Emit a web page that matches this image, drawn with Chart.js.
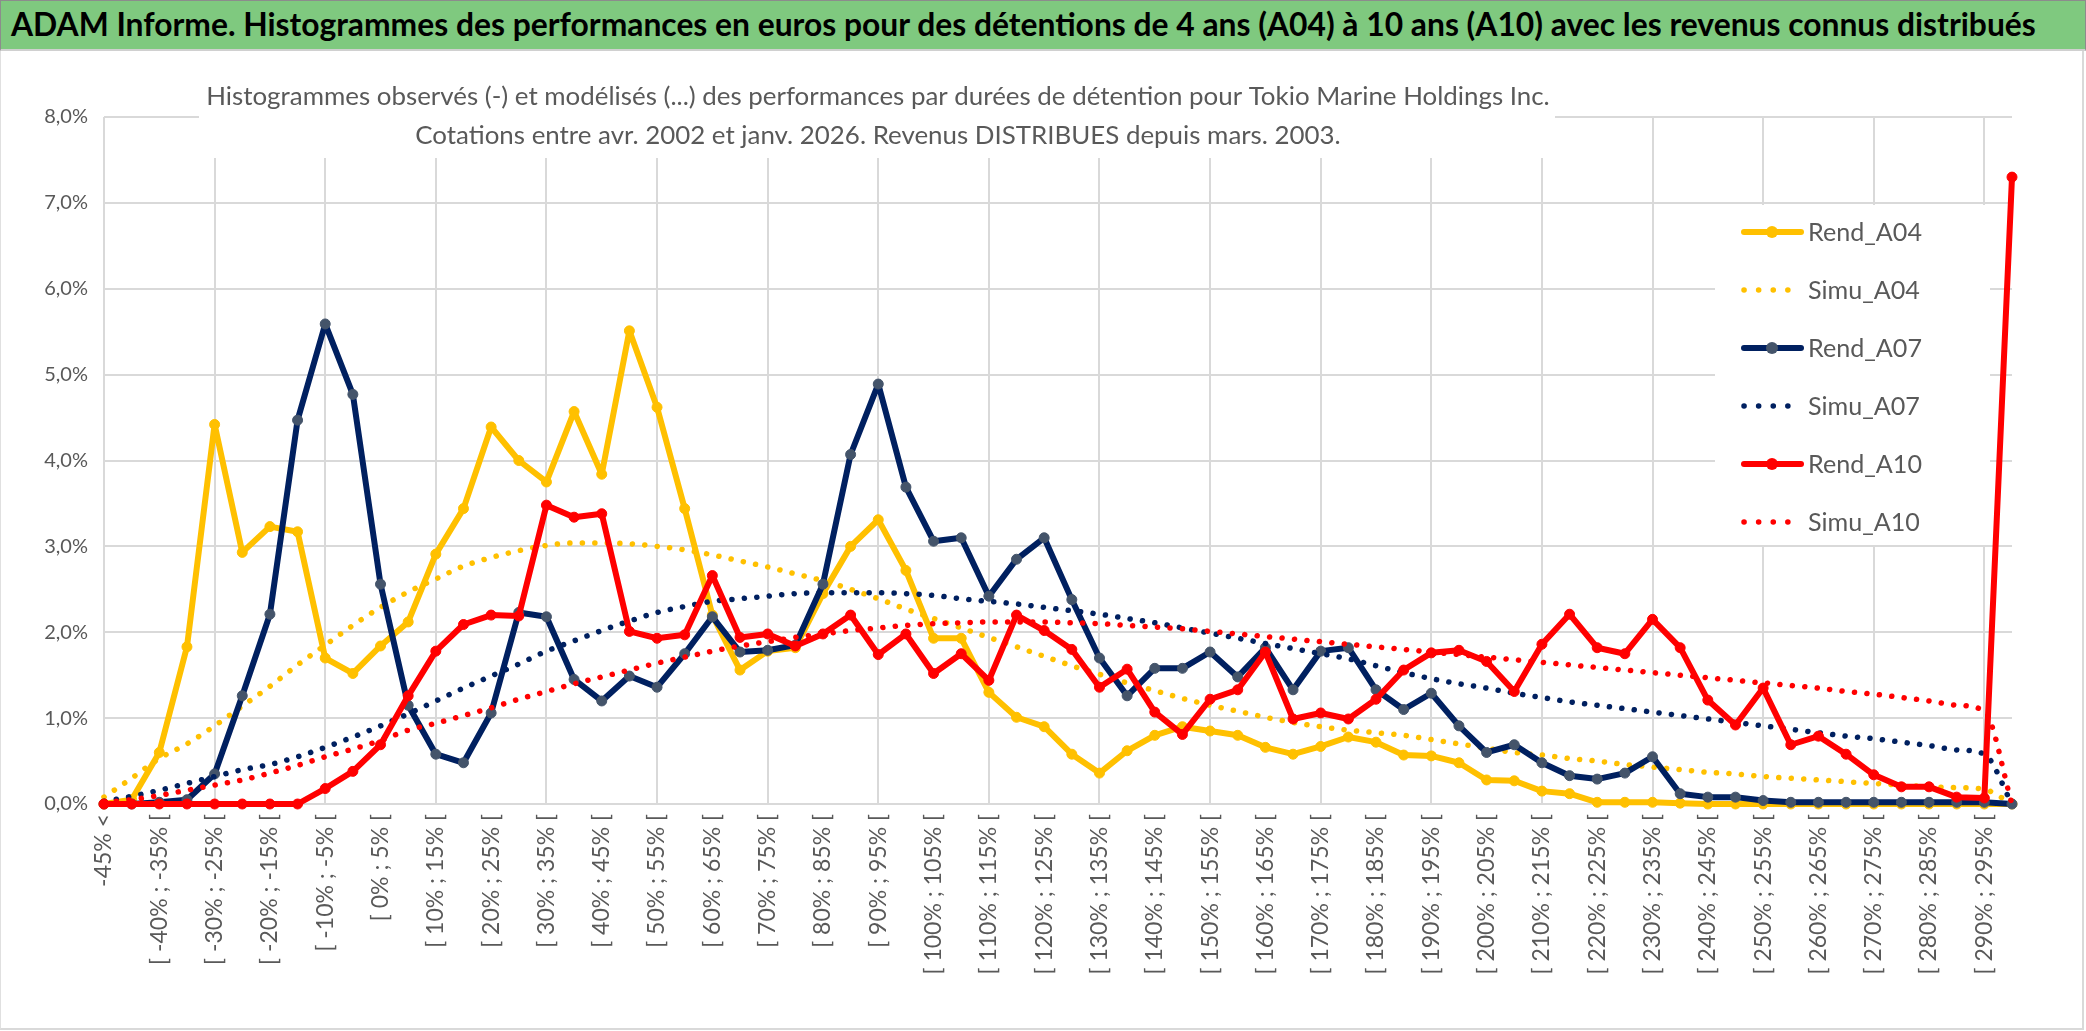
<!DOCTYPE html>
<html lang="fr">
<head>
<meta charset="utf-8">
<title>ADAM Informe - Tokio Marine Holdings Inc.</title>
<script src="https://cdn.jsdelivr.net/npm/chart.js@4.4.1/dist/chart.umd.min.js"></script>
<style>
  html, body { margin: 0; padding: 0; background: #fff; }
  body { width: 2086px; height: 1031px; position: relative; overflow: hidden; font-family: Lato, "Open Sans", sans-serif; }
  #header { position: absolute; left: 0; top: 0; width: 2084px; height: 48px; background: #7fc97f; border: 1px solid #8c8c8c; border-bottom: 2px solid #d0d0d0; }
  #header span { position: absolute; left: 10px; top: 50%; transform: translateY(-52%); font-weight: bold; color: #000; white-space: nowrap; font-size: 28px; }
  #frame { position: absolute; left: 0; top: 51px; width: 2081px; height: 977px; border-right: 2px solid #d9d9d9; border-bottom: 2px solid #d9d9d9; border-left: 1px solid #e0e0e0; pointer-events: none; }
  #chartBox { position: absolute; left: 0; top: 52px; width: 2086px; height: 979px; }
</style>
</head>
<body>
<div id="header"><span id="headerText">ADAM Informe. Histogrammes des performances en euros pour des détentions de 4 ans (A04) à 10 ans (A10) avec les revenus connus distribués</span></div>
<div id="chartBox"><canvas id="histoChart"></canvas></div>
<div id="frame"></div>
<script>
// Categories (bins of performance)
const categories = [
  '-45% <', '[ -45% ; -40% [', '[ -40% ; -35% [', '[ -35% ; -30% [', '[ -30% ; -25% [',
  '[ -25% ; -20% [', '[ -20% ; -15% [', '[ -15% ; -10% [', '[ -10% ; -5% [', '[ -5% ; 0% [',
  '[ 0% ; 5% [', '[ 5% ; 10% [', '[ 10% ; 15% [', '[ 15% ; 20% [', '[ 20% ; 25% [',
  '[ 25% ; 30% [', '[ 30% ; 35% [', '[ 35% ; 40% [', '[ 40% ; 45% [', '[ 45% ; 50% [',
  '[ 50% ; 55% [', '[ 55% ; 60% [', '[ 60% ; 65% [', '[ 65% ; 70% [', '[ 70% ; 75% [',
  '[ 75% ; 80% [', '[ 80% ; 85% [', '[ 85% ; 90% [', '[ 90% ; 95% [', '[ 95% ; 100% [',
  '[ 100% ; 105% [', '[ 105% ; 110% [', '[ 110% ; 115% [', '[ 115% ; 120% [', '[ 120% ; 125% [',
  '[ 125% ; 130% [', '[ 130% ; 135% [', '[ 135% ; 140% [', '[ 140% ; 145% [', '[ 145% ; 150% [',
  '[ 150% ; 155% [', '[ 155% ; 160% [', '[ 160% ; 165% [', '[ 165% ; 170% [', '[ 170% ; 175% [',
  '[ 175% ; 180% [', '[ 180% ; 185% [', '[ 185% ; 190% [', '[ 190% ; 195% [', '[ 195% ; 200% [',
  '[ 200% ; 205% [', '[ 205% ; 210% [', '[ 210% ; 215% [', '[ 215% ; 220% [', '[ 220% ; 225% [',
  '[ 225% ; 230% [', '[ 230% ; 235% [', '[ 235% ; 240% [', '[ 240% ; 245% [', '[ 245% ; 250% [',
  '[ 250% ; 255% [', '[ 255% ; 260% [', '[ 260% ; 265% [', '[ 265% ; 270% [', '[ 270% ; 275% [',
  '[ 275% ; 280% [', '[ 280% ; 285% [', '[ 285% ; 290% [', '[ 290% ; 295% [', '> 295%'
];

// Series values, in %
const rendA04 = [
  0, 0.05, 0.60, 1.83, 4.42, 2.93, 3.23, 3.17, 1.70, 1.52,
  1.84, 2.12, 2.91, 3.44, 4.39, 4.00, 3.75, 4.57, 3.84, 5.51,
  4.62, 3.44, 2.20, 1.56, 1.78, 1.82, 2.45, 3.00, 3.31, 2.72,
  1.93, 1.93, 1.30, 1.01, 0.90, 0.58, 0.36, 0.62, 0.80, 0.90,
  0.85, 0.80, 0.66, 0.58, 0.67, 0.78, 0.72, 0.57, 0.56, 0.48,
  0.28, 0.27, 0.15, 0.12, 0.02, 0.02, 0.02, 0.01, 0, 0,
  0, 0, 0, 0, 0, 0, 0, 0, 0, 0
];
const simuA04 = [
  0.08, 0.30, 0.53, 0.70, 0.91, 1.14, 1.37, 1.62, 1.85, 2.08,
  2.29, 2.47, 2.62, 2.77, 2.87, 2.95, 3.01, 3.04, 3.04, 3.03,
  3.00, 2.96, 2.90, 2.83, 2.76, 2.68, 2.60, 2.50, 2.39, 2.27,
  2.16, 2.05, 1.94, 1.83, 1.72, 1.61, 1.51, 1.41, 1.32, 1.23,
  1.15, 1.08, 1.01, 0.95, 0.90, 0.86, 0.83, 0.80, 0.75, 0.70,
  0.65, 0.60, 0.57, 0.53, 0.50, 0.46, 0.43, 0.40, 0.37, 0.35,
  0.32, 0.30, 0.28, 0.26, 0.24, 0.22, 0.20, 0.19, 0.17, 0
];
const rendA07 = [
  0, 0, 0.02, 0.05, 0.35, 1.26, 2.21, 4.47, 5.59, 4.77,
  2.56, 1.15, 0.58, 0.48, 1.06, 2.23, 2.18, 1.45, 1.20, 1.49,
  1.36, 1.75, 2.18, 1.77, 1.79, 1.85, 2.56, 4.07, 4.89, 3.69,
  3.06, 3.10, 2.42, 2.85, 3.10, 2.38, 1.70, 1.26, 1.58, 1.58,
  1.77, 1.48, 1.82, 1.33, 1.78, 1.82, 1.33, 1.10, 1.29, 0.91,
  0.60, 0.69, 0.48, 0.33, 0.29, 0.36, 0.55, 0.12, 0.08, 0.08,
  0.04, 0.02, 0.02, 0.02, 0.02, 0.02, 0.02, 0.02, 0.02, 0
];
const simuA07 = [
  0.03, 0.09, 0.16, 0.24, 0.32, 0.40, 0.46, 0.55, 0.66, 0.78,
  0.91, 1.05, 1.20, 1.35, 1.49, 1.63, 1.78, 1.90, 2.02, 2.13,
  2.23, 2.30, 2.36, 2.39, 2.42, 2.45, 2.46, 2.46, 2.46, 2.45,
  2.43, 2.39, 2.36, 2.33, 2.29, 2.25, 2.21, 2.16, 2.11, 2.05,
  1.99, 1.93, 1.87, 1.81, 1.75, 1.69, 1.61, 1.53, 1.46, 1.40,
  1.35, 1.29, 1.24, 1.19, 1.15, 1.11, 1.07, 1.03, 0.99, 0.95,
  0.91, 0.87, 0.83, 0.79, 0.76, 0.72, 0.68, 0.63, 0.58, 0
];
const rendA10 = [
  0, 0, 0, 0, 0, 0, 0, 0, 0.18, 0.38,
  0.69, 1.26, 1.78, 2.09, 2.20, 2.19, 3.48, 3.34, 3.38, 2.01,
  1.93, 1.97, 2.66, 1.94, 1.98, 1.84, 1.98, 2.20, 1.74, 1.98,
  1.52, 1.75, 1.44, 2.20, 2.02, 1.80, 1.36, 1.57, 1.07, 0.81,
  1.22, 1.33, 1.77, 0.99, 1.06, 0.99, 1.22, 1.56, 1.76, 1.79,
  1.66, 1.31, 1.86, 2.21, 1.82, 1.75, 2.15, 1.82, 1.21, 0.92,
  1.35, 0.69, 0.79, 0.58, 0.34, 0.20, 0.20, 0.08, 0.07, 7.30
];
const simuA10 = [
  0.02, 0.05, 0.10, 0.16, 0.22, 0.28, 0.36, 0.45, 0.55, 0.64,
  0.74, 0.86, 0.94, 1.03, 1.12, 1.22, 1.31, 1.40, 1.48, 1.56,
  1.64, 1.71, 1.78, 1.84, 1.89, 1.94, 1.98, 2.02, 2.05, 2.08,
  2.10, 2.11, 2.12, 2.12, 2.12, 2.11, 2.10, 2.08, 2.06, 2.04,
  2.01, 1.98, 1.95, 1.92, 1.89, 1.86, 1.83, 1.80, 1.77, 1.74,
  1.71, 1.68, 1.65, 1.62, 1.59, 1.56, 1.53, 1.50, 1.47, 1.44,
  1.41, 1.38, 1.35, 1.31, 1.28, 1.24, 1.20, 1.15, 1.08, 0
];

const titleLines = [
  'Histogrammes observés (-) et modélisés (...) des performances par durées de détention pour Tokio Marine Holdings Inc.',
  'Cotations entre avr. 2002 et janv. 2026. Revenus DISTRIBUES depuis mars. 2003.'
];

const YELLOW = '#FFC000';
const NAVY = '#002060';
const RED = '#FF0000';
const GREY_TEXT = '#595959';
const DOTS = [0.1, 12.4];

// Fit the green header text to its width
const headerText = document.getElementById('headerText');
headerText.style.fontSize = (28 * 2025 / headerText.offsetWidth) + 'px';

function rendSet(label, data, color, marker, order) {
    return {
        label: label,
        data: data,
        borderColor: color,
        backgroundColor: color,
        borderWidth: 6,
        borderJoinStyle: 'round',
        borderCapStyle: 'round',
        pointRadius: 5,
        pointBorderWidth: 1,
        pointBackgroundColor: marker,
        pointBorderColor: marker,
        tension: 0,
        clip: false,
        order: order
    };
}

function simuSet(label, data, color, order) {
    return {
        label: label,
        data: data,
        borderColor: color,
        backgroundColor: color,
        borderWidth: 5.5,
        borderDash: DOTS,
        borderCapStyle: 'round',
        pointRadius: 0,
        cubicInterpolationMode: 'monotone',
        clip: false,
        order: order
    };
}

function fontSizeFor(ctx, text, weight, targetWidth) {
    ctx.font = weight + ' 100px Lato';
    return 100 * targetWidth / ctx.measureText(text).width;
}

// Title block and legend drawn over the grid, under the lines
const overlay = {
    id: 'overlay',
    beforeDatasetsDraw(chart) {
        const ctx = chart.ctx;
        ctx.save();

        // title
        ctx.fillStyle = '#fff';
        ctx.fillRect(199, 0, 1356, 106);
        const tSize = fontSizeFor(ctx, titleLines[0], 'normal', 1344);
        ctx.font = 'normal ' + tSize + 'px Lato';
        ctx.fillStyle = GREY_TEXT;
        ctx.textAlign = 'center';
        ctx.textBaseline = 'middle';
        ctx.fillText(titleLines[0], 878, 45);
        ctx.fillText(titleLines[1], 878, 84);

        // legend
        ctx.fillStyle = '#fff';
        ctx.fillRect(1715, 153, 275, 340);
        const lSize = fontSizeFor(ctx, 'Rend_A04', 'normal', 114);
        ctx.textAlign = 'left';
        chart.data.datasets.forEach((ds, i) => {
            const y = 180 + i * 58;
            ctx.strokeStyle = ds.borderColor;
            ctx.lineWidth = ds.borderWidth;
            ctx.lineCap = 'round';
            ctx.beginPath();
            if (ds.borderDash) {
                ctx.setLineDash([0.1, 14.5]);
                ctx.moveTo(1744, y);
                ctx.lineTo(1790, y);
            } else {
                ctx.setLineDash([]);
                ctx.moveTo(1744, y);
                ctx.lineTo(1801, y);
            }
            ctx.stroke();
            ctx.setLineDash([]);
            if (!ds.borderDash) {
                ctx.fillStyle = ds.pointBackgroundColor;
                ctx.beginPath();
                ctx.arc(1772, y, 6, 0, Math.PI * 2);
                ctx.fill();
            }
            ctx.fillStyle = GREY_TEXT;
            ctx.font = 'normal ' + lSize + 'px Lato';
            ctx.fillText(ds.label, 1808, y + 1);
        });
        ctx.restore();
    }
};

const chartCtx = document.getElementById('histoChart').getContext('2d');
let histoChartInstance = new Chart(chartCtx, {
    type: 'line',
    data: {
        labels: categories,
        datasets: [
            rendSet('Rend_A04', rendA04, YELLOW, YELLOW, 6),
            simuSet('Simu_A04', simuA04, YELLOW, 5),
            rendSet('Rend_A07', rendA07, NAVY, '#44546A', 4),
            simuSet('Simu_A07', simuA07, NAVY, 3),
            rendSet('Rend_A10', rendA10, RED, RED, 2),
            simuSet('Simu_A10', simuA10, RED, 1)
        ]
    },
    options: {
        responsive: true,
        maintainAspectRatio: false,
        animation: false,
        layout: {
            padding: { top: 65, right: 74, bottom: 0, left: 0 }
        },
        scales: {
            x: {
                offset: false,
                border: { display: false },
                grid: {
                    color: (c) => (c.index % 4 === 0 ? '#d9d9d9' : 'rgba(0,0,0,0)'),
                    lineWidth: 2,
                    drawTicks: false
                },
                ticks: {
                    autoSkip: false,
                    minRotation: 90,
                    maxRotation: 90,
                    padding: 10,
                    color: GREY_TEXT,
                    font: { family: 'Lato', size: 23 },
                    callback: (value, index) => (index % 2 === 0 ? categories[index] : '')
                },
                afterFit: (scale) => { scale.height = 227; }
            },
            y: {
                min: 0,
                max: 8,
                border: { display: false },
                grid: {
                    color: '#d9d9d9',
                    lineWidth: 2,
                    drawTicks: false
                },
                ticks: {
                    stepSize: 1,
                    padding: 16,
                    color: GREY_TEXT,
                    font: { family: 'Lato', size: 20 },
                    callback: (value) => value.toFixed(1).replace('.', ',') + '%'
                },
                afterFit: (scale) => { scale.width = 104; }
            }
        },
        plugins: {
            legend: { display: false },
            title: { display: false },
            tooltip: { enabled: false }
        }
    },
    plugins: [overlay]
});
</script>
</body>
</html>
